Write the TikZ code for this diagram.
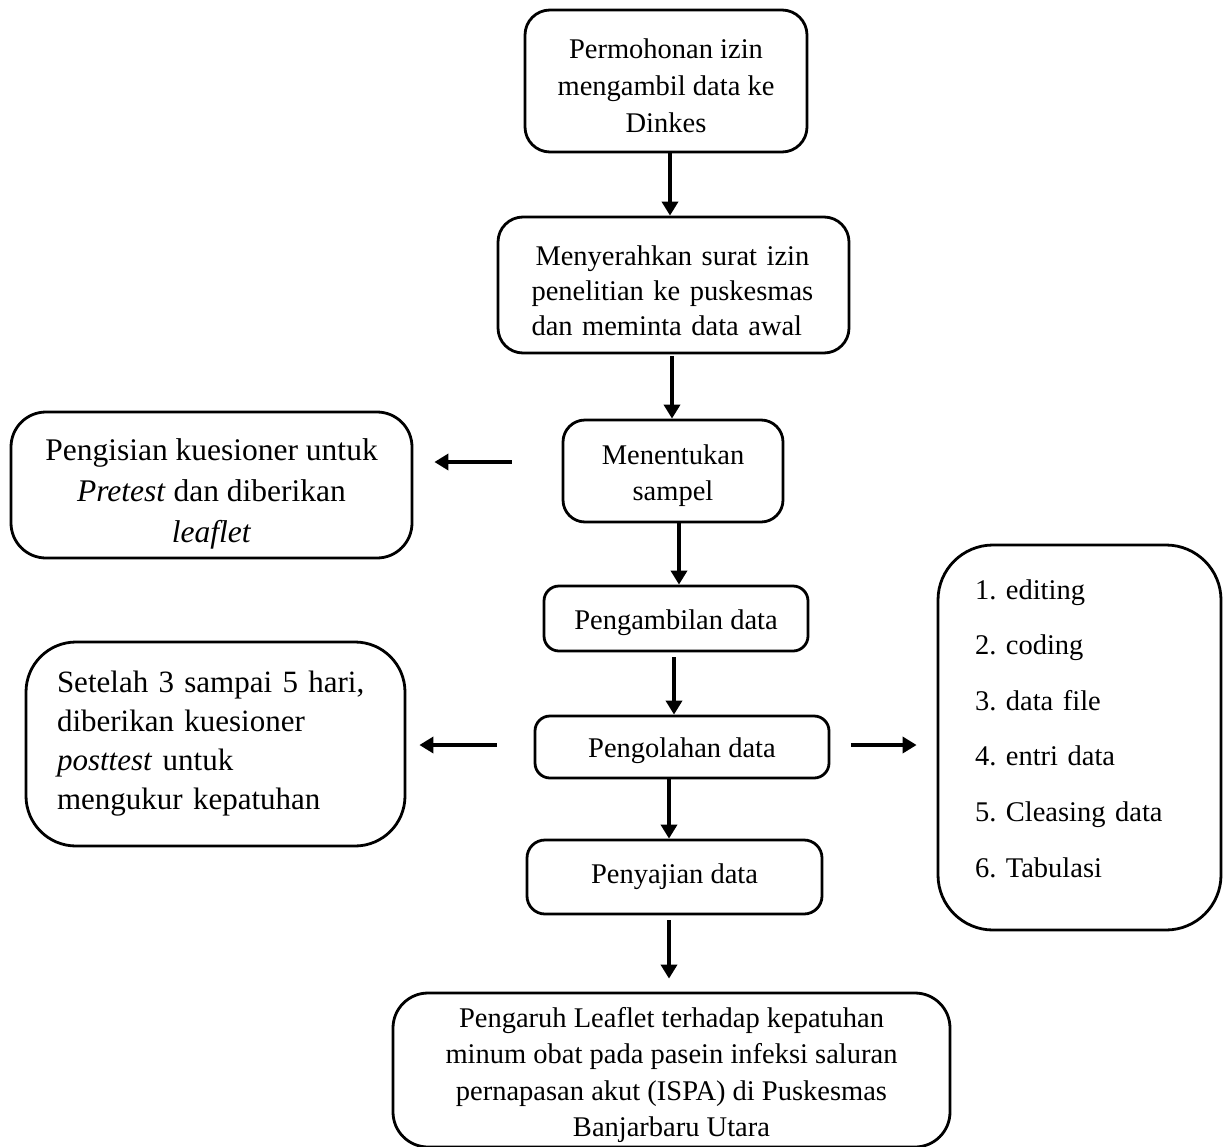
\documentclass[tikz,border=0pt]{standalone}
\usepackage{fontspec}
\setmainfont{Liberation Serif}
\usetikzlibrary{arrows.meta}
% move a node's text block down (first line gets extra height) or up (last line gets extra depth)
\newcommand\txdn[2]{\raisebox{0pt}[\dimexpr\height+#1\relax][\depth]{#2}}
\newcommand\txup[2]{\raisebox{0pt}[\height][\dimexpr\depth+#1\relax]{#2}}
\frenchspacing
\begin{document}
\begin{tikzpicture}[x=1pt,y=-1pt,
  box/.style={draw, line width=2.8pt, rounded corners=#1, align=center, inner sep=0pt},
  box/.default=22pt,
  arr/.style={line width=3.8pt, -{Triangle[length=14pt,width=16pt]}},
  main/.style={font=\fontsize{28.5}{37}\selectfont}]
\path[use as bounding box, fill=white] (0,0) rectangle (1223,1146);

% central column
\node[box=25pt, main, minimum width=282pt, minimum height=142pt] (b1) at (666,81)
  {\txdn{9pt}{Permohonan izin}\\mengambil data ke\\Dinkes};
\node[box=25pt, font=\fontsize{28.5}{35}\selectfont, minimum width=351pt, minimum height=136pt, text width=284pt, align=left] (b2) at (673.5,285)
  {\txdn{12pt}{\makebox[284pt][s]{\hspace{4pt}Menyerahkan surat izin}}\\penelitian ke puskesmas\\dan meminta data awal};
\node[box=22pt, font=\fontsize{28.5}{36}\selectfont, minimum width=220pt, minimum height=102pt] (b3) at (673,471)
  {\txdn{10pt}{Menentukan}\\sampel};
\node[box=15pt, main, minimum width=264pt, minimum height=65pt] (b4) at (676,618.5)
  {\txdn{8pt}{Pengambilan data}};
\node[box=15pt, main, minimum width=294pt, minimum height=62pt] (b5) at (682,747)
  {\txdn{8pt}{Pengolahan data}};
\node[box=18pt, main, minimum width=295pt, minimum height=74pt] (b6) at (674.5,877)
  {Penyajian data};
\node[box=35pt, font=\fontsize{28.5}{36.5}\selectfont, minimum width=557pt, minimum height=154pt] (bot) at (671.5,1070)
  {\txdn{10pt}{Pengaruh Leaflet terhadap kepatuhan}\\minum obat pada pasein infeksi saluran\\pernapasan akut (ISPA) di Puskesmas\\Banjarbaru Utara};

% side boxes
\node[box=35pt, font=\fontsize{31.5}{41}\selectfont, minimum width=401pt, minimum height=146pt] (L1) at (211.5,485)
  {\txdn{18pt}{Pengisian kuesioner untuk}\\\textit{Pretest} dan diberikan\\\textit{leaflet}};
\node[box=50pt, font=\fontsize{31}{39}\selectfont, minimum width=379pt, minimum height=204pt, text width=317pt, align=left] (L2) at (215.5,744)
  {Setelah 3 sampai 5 hari,\\diberikan kuesioner\\\textit{posttest} untuk\\mengukur kepatuhan};
\node[box=55pt, font=\fontsize{28.5}{55.6}\selectfont, minimum width=283pt, minimum height=385pt, text width=209pt, align=left] (R) at (1079.5,737.5)
  {1. editing\\2. coding\\3. data file\\4. entri data\\5. Cleasing data\\\txup{18pt}{6. Tabulasi}};

% connector x/y references
\coordinate (xa1) at (670,0);
\coordinate (xa2) at (672,0);
\coordinate (xa3) at (679,0);
\coordinate (xa4) at (674,0);
\coordinate (xa5) at (669,0);
\coordinate (xa6) at (669,0);
\coordinate (yl1) at (0,462);
\coordinate (yl2) at (0,745);

\draw[arr] (b1.south -| xa1) -- (b2.north -| xa1);
\draw[arr, shorten <=2pt] (b2.south -| xa2) -- (b3.north -| xa2);
\draw[arr] (b3.south -| xa3) -- (b4.north -| xa3);
\draw[arr, shorten <=5pt] (b4.south -| xa4) -- (b5.north -| xa4);
\draw[arr] (b5.south -| xa5) -- (b6.north -| xa5);
\draw[arr, shorten <=5pt, shorten >=13pt] (b6.south -| xa6) -- (bot.north -| xa6);

\draw[arr, shorten <=50pt, shorten >=21pt] (b3.west |- yl1) -- (L1.east |- yl1);
\draw[arr, shorten <=37pt, shorten >=13pt] (b5.west |- yl2) -- (L2.east |- yl2);
\draw[arr, shorten <=20.5pt, shorten >=20pt] (b5.east |- yl2) -- (R.west |- yl2);
\end{tikzpicture}
\end{document}
